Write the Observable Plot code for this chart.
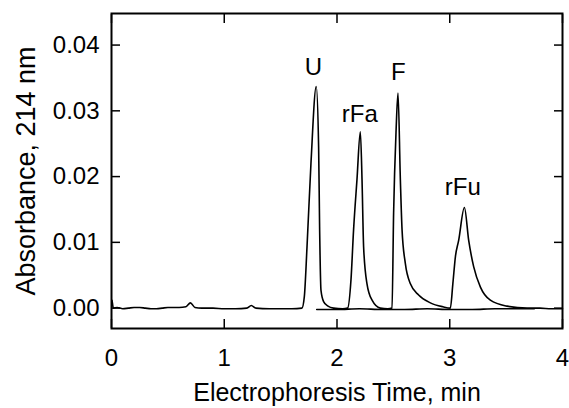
<!DOCTYPE html>
<html><head><meta charset="utf-8">
<script src="https://cdn.jsdelivr.net/npm/d3@7"></script>
<script src="https://cdn.jsdelivr.net/npm/@observablehq/plot@0.6"></script>
<style>
body{margin:0;background:#fff;}
#chart svg{display:block;}
g[aria-label="x-axis label"] text{font-size:25px;}
g[aria-label="y-axis label"] text{font-size:27px;}
</style></head><body><div id="chart"></div>
<script>
// Main electropherogram trace (time in min, absorbance at 214 nm)
const traceTimes = [0.004,0.008,0.016,0.05,0.10,0.15,0.20,0.25,0.30,0.35,0.40,0.45,0.50,0.55,0.60,0.66,0.70,0.74,0.80,0.90,1.00,1.10,1.20,1.24,1.28,1.40,1.50,1.60,
  1.689,1.710,1.734,1.769,1.816,1.837,1.846,1.858,1.881,1.92,1.97,2.05,
  2.094,2.124,2.147,2.177,2.207,2.222,2.236,2.266,2.311,2.384,2.45,
  2.488,2.502,2.524,2.541,2.562,2.577,2.606,2.651,2.724,2.828,2.94,
  3.005,3.028,3.050,3.079,3.130,3.168,3.212,3.272,3.360,3.508,3.686,3.80,3.90,4.00];
const traceValues = [0.0012,0.0008,0.0000,0.0001,-0.0001,0.0000,0.0001,0.0001,0.0000,-0.0001,-0.0001,0.0000,0.0001,0.0001,0.0001,0.0002,0.0008,0.0001,0.0000,0.0000,-0.0001,-0.0001,0.0000,0.0004,0.0000,-0.0001,-0.0001,-0.0001,
  0.0000,0.0017,0.0093,0.0220,0.0337,0.0245,0.0119,0.0027,0.0010,0.0003,0.0000,-0.0001,
  0.0000,0.0043,0.0119,0.0195,0.0268,0.0195,0.0093,0.0037,0.0012,0.0000,-0.0001,
  0.0000,0.0144,0.0270,0.0327,0.0195,0.0119,0.0068,0.0037,0.0020,0.0008,0.0002,
  0.0000,0.0038,0.0078,0.0103,0.0153,0.0103,0.0063,0.0032,0.0012,0.0003,0.0000,0.0000,-0.0001,-0.0001];
// Overlaid lower baseline trace
const baseTimes = [1.82,2.0,2.2,2.4,2.6,2.8,3.0,3.2,3.4,3.6,3.75];
const baseValues = [-0.0002,-0.0002,-0.0001,-0.0002,-0.0002,-0.0001,-0.0002,-0.0002,-0.0001,-0.0001,-0.0001];
// Peak labels
const peakNames = ["U","rFa","F","rFu"];
const peakLabelTimes = [1.79,2.202,2.544,3.116];
const peakLabelValues = [0.0354,0.0283,0.0347,0.0172];
// Ticks
const xTicks = [0,1,2,3,4];
const yTicks = [0,0.01,0.02,0.03,0.04];
const xDomain = [0,4];
const yDomain = [-0.0031,0.0448];

const trace = traceTimes.map((t,i)=>({t, a: traceValues[i], s: "main"}))
  .concat(baseTimes.map((t,i)=>({t, a: baseValues[i], s: "base"})));
const peaks = peakNames.map((n,i)=>({n, t: peakLabelTimes[i], a: peakLabelValues[i]}));

const chart = Plot.plot({
  width: 569, height: 408,
  marginLeft: 111, marginRight: 7, marginTop: 13, marginBottom: 80,
  style: {fontFamily: "Arial, 'Liberation Sans', sans-serif", fontSize: "24px", color: "black", background: "white"},
  x: {domain: xDomain},
  y: {domain: yDomain},
  marks: [
    Plot.line(trace, {x: "t", y: "a", z: "s", stroke: "black", strokeWidth: 1.6, curve: "monotone-x"}),
    Plot.text(peaks, {x: "t", y: "a", text: "n", lineAnchor: "bottom", fontSize: 24, fill: "black"}),
    Plot.axisX({anchor: "bottom", ticks: xTicks, tickFormat: d3.format("d"), tickSize: -9, tickPadding: 29, strokeWidth: 1.5,
      label: "Electrophoresis Time, min", labelAnchor: "center", labelOffset: 72, labelArrow: "none"}),
    Plot.axisX({anchor: "top", ticks: xTicks, tickSize: -9, strokeWidth: 1.5, tickFormat: () => "", label: null}),
    Plot.axisY({anchor: "left", ticks: yTicks, tickFormat: d3.format(".2f"), tickSize: -9, tickPadding: 21, strokeWidth: 1.5,
      label: "Absorbance, 214 nm", labelAnchor: "center", labelOffset: 96, labelArrow: "none"}),
    Plot.axisY({anchor: "right", ticks: yTicks, tickSize: -9, strokeWidth: 1.5, tickFormat: () => "", label: null}),
    Plot.frame({stroke: "black", strokeWidth: 2})
  ]
});
document.getElementById("chart").appendChild(chart);
</script></body></html>
